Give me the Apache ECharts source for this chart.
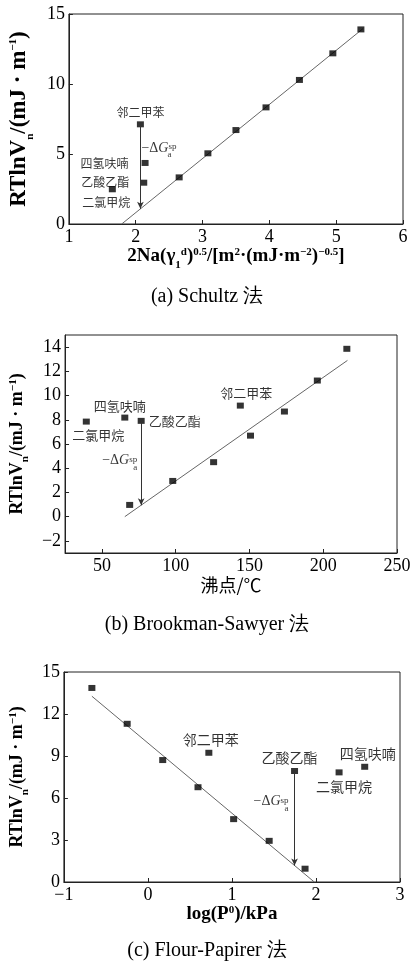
<!DOCTYPE html>
<html>
<head>
<meta charset="utf-8">
<script src="https://cdn.jsdelivr.net/npm/echarts@6/dist/echarts.min.js"></script>
<style>
html, body { margin: 0; padding: 0; background: #fff; }
#chart { width: 414px; height: 963px; }
</style>
</head>
<body>
<div id="chart"></div>
<script>
// probe solvents, same order in every panel
const solvents = ['邻二甲苯', '四氢呋喃', '乙酸乙酯', '二氯甲烷'];

// (a) Schultz 法
const aAlkaneX = [2.65, 3.08, 3.50, 3.95, 4.45, 4.95, 5.37];
const aAlkaneY = [3.33, 5.05, 6.71, 8.33, 10.29, 12.19, 13.90];
const aPolarX = [2.07, 2.14, 2.12, 1.65];
const aPolarY = [7.12, 4.36, 2.95, 2.48];
const aFitX = [1.79, 5.40];
const aFitY = [0, 13.95];
const aXTicks = [1, 2, 3, 4, 5, 6];
const aYTicks = [0, 5, 10, 15];

// (b) Brookman-Sawyer 法
const bAlkaneX = [68.8, 98, 125.7, 150.7, 173.7, 196, 216];
const bAlkaneY = [0.97, 2.95, 4.5, 6.69, 8.68, 11.24, 13.86];
const bPolarX = [143.8, 65.5, 76.6, 39.4];
const bPolarY = [9.17, 8.18, 7.91, 7.85];
const bFitX = [65.5, 216.4];
const bFitY = [0, 12.9];
const bXTicks = [50, 100, 150, 200, 250];
const bYTicks = [-2, 0, 2, 4, 6, 8, 10, 12, 14];

// (c) Flour-Papirer 法
const cAlkaneX = [-0.667, -0.247, 0.176, 0.596, 1.02, 1.443, 1.87];
const cAlkaneY = [13.86, 11.3, 8.71, 6.77, 4.49, 2.94, 0.95];
const cPolarX = [0.725, 2.58, 1.745, 2.275];
const cPolarY = [9.23, 8.23, 7.93, 7.83];
const cFitX = [-0.667, 1.98];
const cFitY = [13.27, 0];
const cXTicks = [-1, 0, 1, 2, 3];
const cYTicks = [0, 3, 6, 9, 12, 15];

const serif = '"Liberation Serif", "DejaVu Serif", serif';
const cjk = '"Noto Sans CJK SC", sans-serif';

const chart = echarts.init(document.getElementById('chart'));

function fitAt(fx, fy, x) {
    return fy[0] + (fy[1] - fy[0]) * (x - fx[0]) / (fx[1] - fx[0]);
}

const subSup = {
    b: {},
    sub: { fontSize: 11, verticalAlign: 'bottom', lineHeight: 11, padding: [0, 0, -5, 0] },
    sup: { fontSize: 11, verticalAlign: 'top', lineHeight: 11 }
};

const yTitle = '{b|RTlnV}{sub|n}{b|/(mJ · m}{sup|−1}{b|)}';

function valueAxis(grid, min, max, ticks, extra) {
    return Object.assign({
        type: 'value',
        gridIndex: grid,
        min: min,
        max: max,
        splitLine: { show: false },
        axisLine: { show: true, onZero: false, lineStyle: { color: '#222', width: 1 } },
        axisTick: { inside: true, length: 4, customValues: ticks, lineStyle: { color: '#222' } },
        axisLabel: {
            customValues: ticks,
            color: '#000', fontSize: 18, fontFamily: serif, margin: 4,
            formatter: v => String(v).replace('-', '−')
        },
        nameLocation: 'middle'
    }, extra);
}

function panelSeries(g, alkX, alkY, polX, polY, fitX, fitY, labelLayout, labelSize, arrowIdx, dg) {
    const ax = polX[arrowIdx];
    const yTop = polY[arrowIdx];
    const yEnd = fitAt(fitX, fitY, ax);
    return [
        {
            type: 'line',
            xAxisIndex: g, yAxisIndex: g,
            data: fitX.map((x, i) => [x, fitY[i]]),
            showSymbol: false,
            lineStyle: { color: '#666', width: 1 },
            z: 1,
            markLine: {
                silent: true,
                symbol: ['none', 'arrow'],
                symbolSize: [5, 7],
                label: { show: false },
                lineStyle: { color: '#333', width: 1, type: 'solid' },
                data: [[{ coord: [ax, yTop] }, { coord: [ax, yEnd] }]]
            }
        },
        {
            type: 'scatter',
            xAxisIndex: g, yAxisIndex: g,
            symbol: 'rect', symbolSize: [7, 6],
            itemStyle: { color: '#000' },
            data: alkX.map((x, i) => [x, alkY[i]]),
            z: 3
        },
        {
            type: 'scatter',
            xAxisIndex: g, yAxisIndex: g,
            symbol: 'rect', symbolSize: [7, 6],
            itemStyle: { color: '#000' },
            data: polX.map((x, i) => ({
                value: [x, polY[i]],
                name: solvents[i],
                label: Object.assign({
                    show: true,
                    formatter: solvents[i],
                    color: '#000',
                    fontSize: labelSize,
                    fontFamily: cjk
                }, labelLayout[i])
            })),
            z: 3
        },
        {
            type: 'scatter',
            xAxisIndex: g, yAxisIndex: g,
            symbolSize: 0,
            silent: true,
            data: [{
                value: [ax, (yTop + yEnd) / 2],
                label: {
                    show: true,
                    position: dg.position,
                    distance: dg.distance,
                    offset: dg.offset,
                    formatter: '{m|−Δ}{i|G}{s|sp}\n{p|}{s2|a}',
                    rich: {
                        m: { fontSize: 14, fontFamily: serif, color: '#000', lineHeight: 11 },
                        i: { fontSize: 14, fontFamily: serif, fontStyle: 'italic', color: '#000', lineHeight: 11 },
                        s: { fontSize: 9, fontFamily: serif, color: '#000', verticalAlign: 'top', lineHeight: 11 },
                        p: { width: 26, lineHeight: 3 },
                        s2: { fontSize: 9, fontFamily: serif, color: '#000', lineHeight: 3 }
                    }
                }
            }]
        }
    ];
}

const option = {
    animation: false,
    backgroundColor: '#fff',
    title: [
        { text: '(a) Schultz 法', left: 'center', top: 287, padding: 0,
          textStyle: { fontFamily: serif, fontWeight: 'normal', fontSize: 20, color: '#000' } },
        { text: '(b) Brookman-Sawyer 法', left: 'center', top: 615, padding: 0,
          textStyle: { fontFamily: serif, fontWeight: 'normal', fontSize: 20, color: '#000' } },
        { text: '(c) Flour-Papirer 法', left: 'center', top: 941, padding: 0,
          textStyle: { fontFamily: serif, fontWeight: 'normal', fontSize: 20, color: '#000' } }
    ],
    grid: [
        { left: 63, top: 14, width: 340, height: 210, show: true, borderColor: '#222', borderWidth: 1 },
        { left: 57, top: 335, width: 340, height: 218, show: true, borderColor: '#222', borderWidth: 1 },
        { left: 60, top: 672, width: 340, height: 210, show: true, borderColor: '#222', borderWidth: 1 }
    ],
    xAxis: [
        valueAxis(0, 1, 6, aXTicks, {
            name: '2Na(γ{sub|1}{sup|d}){sup|0.5}/[m{sup|2}·(mJ·m{sup|−2}){sup|−0.5}]',
            nameGap: 14,
            nameTextStyle: { fontFamily: serif, fontWeight: 'bold', fontSize: 19, color: '#000', rich: subSup }
        }),
        valueAxis(1, 25, 250, bXTicks, {
            name: '沸点/℃',
            nameGap: 20,
            nameTextStyle: { fontFamily: cjk, fontSize: 18, color: '#000' }
        }),
        valueAxis(2, -1, 3, cXTicks, {
            name: 'log(P{sup|0})/kPa',
            nameGap: 20,
            nameTextStyle: { fontFamily: serif, fontWeight: 'bold', fontSize: 19, color: '#000', rich: subSup }
        })
    ],
    yAxis: [
        valueAxis(0, 0, 15, aYTicks, {
            name: yTitle, nameGap: 34,
            nameTextStyle: { fontFamily: serif, fontWeight: 'bold', fontSize: 23, color: '#000', rich: subSup }
        }),
        valueAxis(1, -3, 15, bYTicks, {
            name: yTitle, nameGap: 30,
            nameTextStyle: { fontFamily: serif, fontWeight: 'bold', fontSize: 18, color: '#000', rich: subSup }
        }),
        valueAxis(2, 0, 15, cYTicks, {
            name: yTitle, nameGap: 27,
            nameTextStyle: { fontFamily: serif, fontWeight: 'bold', fontSize: 18, color: '#000', rich: subSup }
        })
    ],
    series: [].concat(
        panelSeries(0, aAlkaneX, aAlkaneY, aPolarX, aPolarY, aFitX, aFitY, [
            { position: 'top', distance: 3 },
            { position: 'left', distance: 13 },
            { position: 'left', distance: 11 },
            { position: 'bottom', distance: 4, offset: [-6, 0] }
        ], 12, 0, { position: 'right', distance: 1, offset: [0, -17] }),
        panelSeries(1, bAlkaneX, bAlkaneY, bPolarX, bPolarY, bFitX, bFitY, [
            { position: 'top', distance: 3, offset: [6, 0] },
            { position: 'top', distance: 2, offset: [-5, 0] },
            { position: 'right', distance: 4 },
            { position: 'bottom', distance: 4, offset: [12, 0] }
        ], 13, 2, { position: 'left', distance: 4, offset: [0, -1] }),
        panelSeries(2, cAlkaneX, cAlkaneY, cPolarX, cPolarY, cFitX, cFitY, [
            { position: 'top', distance: 3, offset: [2, 0] },
            { position: 'top', distance: 3, offset: [3, 0] },
            { position: 'top', distance: 3, offset: [-5, 0] },
            { position: 'bottom', distance: 4, offset: [5, 0] }
        ], 14, 2, { position: 'left', distance: 6, offset: [0, -15] })
    )
};

chart.setOption(option);
</script>
</body>
</html>
